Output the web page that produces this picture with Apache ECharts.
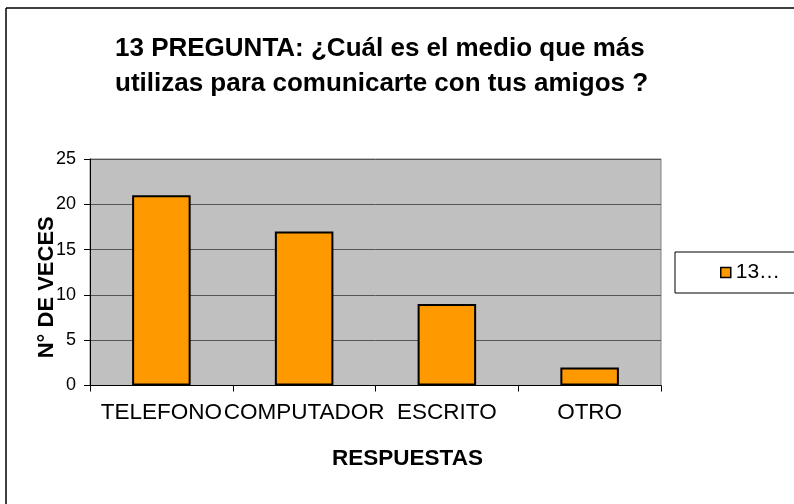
<!DOCTYPE html>
<html>
<head>
<meta charset="utf-8">
<script src="https://cdn.jsdelivr.net/npm/echarts@6/dist/echarts.min.js"></script>
<style>
  html, body { margin: 0; padding: 0; background: #fff; }
  #chart { width: 794px; height: 504px; }
</style>
</head>
<body>
<div id="chart"></div>
<script>
var titleText = '13 PREGUNTA: ¿Cuál es el medio que más\nutilizas para comunicarte con tus amigos ?';
var categories = ['TELEFONO', 'COMPUTADOR', 'ESCRITO', 'OTRO'];
var values = [21, 17, 9, 2];
var seriesName = '13 PREGUNTA';
var legendLabel = '13…';
var yAxisName = 'N° DE VECES';
var xAxisName = 'RESPUESTAS';
var yMin = 0, yMax = 25, yStep = 5;

var FONT = "'Liberation Sans', Arial, sans-serif";
var chart = echarts.init(document.getElementById('chart'), null, { renderer: 'canvas' });

chart.setOption({
  animation: false,
  backgroundColor: '#ffffff',
  textStyle: { fontFamily: FONT },
  title: {
    text: titleText,
    left: 115,
    top: 31,
    padding: 0,
    textStyle: { fontFamily: FONT, fontSize: 26, fontWeight: 'bold', color: '#000', lineHeight: 35 }
  },
  graphic: [
    { type: 'line', shape: { x1: 6, y1: 8, x2: 6, y2: 504 }, style: { stroke: '#000', lineWidth: 1.5 } },
    { type: 'line', shape: { x1: 6, y1: 8, x2: 794, y2: 8 }, style: { stroke: '#000', lineWidth: 1.5 } }
  ],
  legend: {
    left: 675,
    top: 252,
    padding: [10, 60, 10, 45],
    borderColor: '#000',
    borderWidth: 1,
    backgroundColor: '#fff',
    itemWidth: 10,
    itemHeight: 10,
    itemGap: 5,
    icon: 'rect',
    itemStyle: { color: '#FF9900', borderColor: '#000', borderWidth: 1.5 },
    formatter: function () { return legendLabel; },
    textStyle: { fontFamily: FONT, fontSize: 21, color: '#000' },
    data: [seriesName]
  },
  grid: {
    left: 90,
    right: 133,
    top: 159,
    bottom: 118.5,
    show: true,
    backgroundColor: '#C0C0C0',
    borderColor: '#808080',
    borderWidth: 1,
    containLabel: false
  },
  xAxis: {
    type: 'category',
    data: categories,
    name: xAxisName,
    nameLocation: 'middle',
    nameGap: 62,
    nameMoveOverlap: false,
    nameTextStyle: { fontFamily: FONT, fontSize: 22.5, fontWeight: 'bold', color: '#000', padding: [0, 0, 0, 64] },
    axisLine: { show: true, lineStyle: { color: '#000', width: 1 } },
    axisTick: { show: true, length: 6, alignWithLabel: false, lineStyle: { color: '#000' } },
    axisLabel: { interval: 0, margin: 16, fontFamily: FONT, fontSize: 22.5, color: '#000' },
    splitLine: { show: false }
  },
  yAxis: {
    type: 'value',
    min: yMin,
    max: yMax,
    interval: yStep,
    name: yAxisName,
    nameLocation: 'middle',
    nameRotate: 90,
    nameGap: 32,
    nameMoveOverlap: false,
    nameTextStyle: { fontFamily: FONT, fontSize: 22, fontWeight: 'bold', color: '#000', padding: [0, 30, 0, 0] },
    axisLine: { show: true, lineStyle: { color: '#000', width: 1 } },
    axisTick: { show: true, length: 6, inside: false, lineStyle: { color: '#000' } },
    axisLabel: { margin: 14, fontFamily: FONT, fontSize: 18, color: '#000' },
    splitLine: { show: true, lineStyle: { color: '#555555', width: 1 } }
  },
  series: [{
    name: seriesName,
    type: 'bar',
    data: values,
    barWidth: '41%',
    itemStyle: { color: '#FF9900', borderColor: '#000', borderWidth: 2 }
  }]
});
</script>
</body>
</html>
